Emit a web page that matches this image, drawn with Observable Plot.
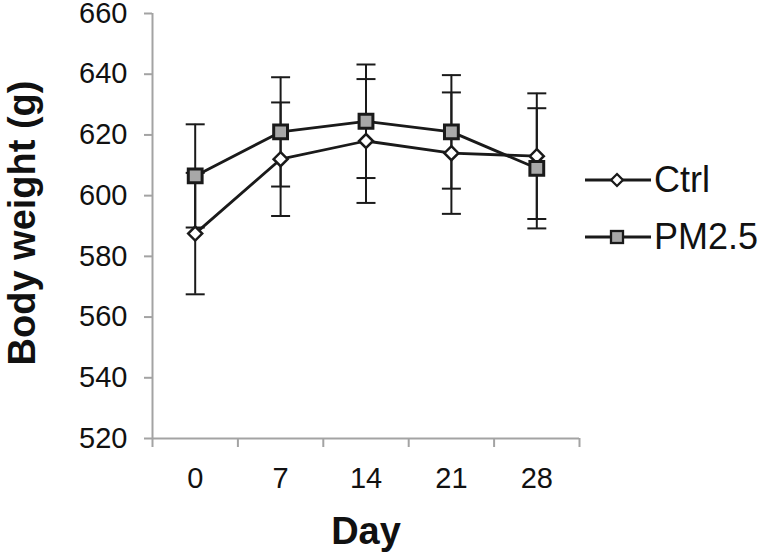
<!DOCTYPE html>
<html>
<head>
<meta charset="utf-8">
<script src="https://cdn.jsdelivr.net/npm/d3@7"></script>
<script src="https://cdn.jsdelivr.net/npm/@observablehq/plot@0.6"></script>
<style>
  html, body { margin: 0; padding: 0; background: #fff; }
  #wrap { position: relative; width: 767px; height: 556px; overflow: hidden; font-family: Arial, "Liberation Sans", Helvetica, sans-serif; }
  #legend { position: absolute; left: 585px; top: 151px; }
  .row { display: flex; align-items: center; height: 57px; }
  .row span { font-size: 36px; color: #111; margin-left: 3px; line-height: 1; }
</style>
</head>
<body>
<div id="wrap"><div id="chart"></div><div id="legend"></div></div>
<script>
// ---- data ----
const days = ["0", "7", "14", "21", "28"];
const ctrlMean = [587.5, 612, 618, 614, 613];
const ctrlSD = [20, 18.7, 20.4, 20, 20.7];
const pmMean = [606.5, 621, 624.5, 621, 609];
const pmSD = [17, 18, 18.7, 18.7, 19.8];
const yTicks = [520, 540, 560, 580, 600, 620, 640, 660];
const seriesNames = ["Ctrl", "PM2.5"];

// ---- tables built from the arrays ----
const ctrl = days.map((d, i) => ({i, day: d, m: ctrlMean[i], sd: ctrlSD[i]}));
const pm = days.map((d, i) => ({i, day: d, m: pmMean[i], sd: pmSD[i]}));
const idx = days.map((d, i) => i);
const bounds = [-0.5, ...idx.map(i => i + 0.5)];

const gray = "#a3a3a3";
const ink = "#1a1a1a";
const cap = {draw(ctx) { ctx.moveTo(-9.5, 0); ctx.lineTo(9.5, 0); }};

function errorMarks(data) {
  return [
    Plot.ruleX(data, {x: "i", y1: d => d.m - d.sd, y2: d => d.m + d.sd, stroke: ink, strokeWidth: 2}),
    Plot.dot(data, {x: "i", y: d => d.m + d.sd, symbol: cap, r: 5, stroke: ink, strokeWidth: 2, fill: "none"}),
    Plot.dot(data, {x: "i", y: d => d.m - d.sd, symbol: cap, r: 5, stroke: ink, strokeWidth: 2, fill: "none"})
  ];
}

const chart = Plot.plot({
  width: 767,
  height: 556,
  marginLeft: 152,
  marginRight: 188,
  marginTop: 13,
  marginBottom: 118,
  style: {fontFamily: "Arial, 'Liberation Sans', Helvetica, sans-serif", fontSize: "29px", background: "#fff", color: "#111"},
  x: {type: "linear", domain: [-0.5, 4.5]},
  y: {domain: [520, 660]},
  marks: [
    Plot.axisY({ticks: yTicks, tickSize: 8, tickPadding: 17, stroke: gray, strokeWidth: 2, fill: "#111", fontSize: 29, label: null}),
    Plot.axisX({ticks: bounds, tickSize: 9, tickPadding: 0, stroke: gray, strokeWidth: 2, tickFormat: () => "", label: null}),
    Plot.axisX({ticks: idx, tickSize: 0, tickPadding: 29, fill: "#111", fontSize: 29, tickFormat: i => days[i], label: null}),
    Plot.ruleX([-0.5], {stroke: gray, strokeWidth: 2}),
    Plot.ruleY([520], {stroke: gray, strokeWidth: 2}),
    ...errorMarks(ctrl),
    ...errorMarks(pm),
    Plot.line(ctrl, {x: "i", y: "m", stroke: ink, strokeWidth: 2.8}),
    Plot.dot(ctrl, {x: "i", y: "m", symbol: "diamond2", r: 6.3, fill: "#fff", stroke: ink, strokeWidth: 2.5}),
    Plot.line(pm, {x: "i", y: "m", stroke: ink, strokeWidth: 2.8}),
    Plot.dot(pm, {x: "i", y: "m", symbol: "square", r: 7.8, fill: "#a8a8a8", stroke: ink, strokeWidth: 3}),
    Plot.text(["Body weight (g)"], {frameAnchor: "left", textAnchor: "middle", lineAnchor: "middle", dx: -130, dy: -3, rotate: -90, fontSize: 38, fontWeight: "bold", fill: "#111"}),
    Plot.text(["Day"], {frameAnchor: "bottom", lineAnchor: "middle", dy: 93, fontSize: 38, fontWeight: "bold", fill: "#111"})
  ]
});
document.getElementById("chart").appendChild(chart);

// ---- legend ----
const legend = d3.select("#legend");
seriesNames.forEach((name, k) => {
  const row = legend.append("div").attr("class", "row");
  const s = row.append("svg").attr("width", 66).attr("height", 20);
  s.append("line").attr("x1", 0).attr("x2", 66).attr("y1", 10).attr("y2", 10).attr("stroke", ink).attr("stroke-width", 2.8);
  if (k === 0) {
    s.append("path").attr("transform", "translate(32,10)").attr("d", d3.symbol(d3.symbolDiamond2, 90)())
      .attr("fill", "#fff").attr("stroke", ink).attr("stroke-width", 2.3);
  } else {
    s.append("rect").attr("x", 26).attr("y", 4).attr("width", 12).attr("height", 12)
      .attr("fill", "#a8a8a8").attr("stroke", ink).attr("stroke-width", 2.3);
  }
  row.append("span").text(name);
});
</script>
</body>
</html>
